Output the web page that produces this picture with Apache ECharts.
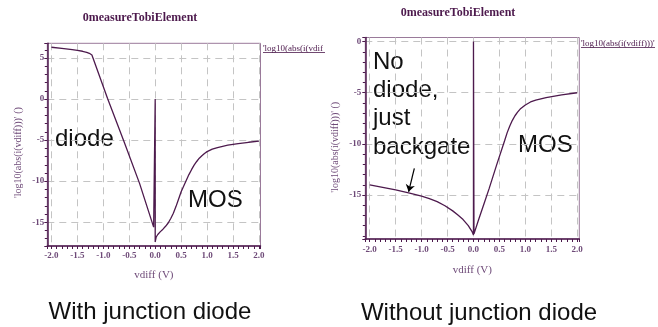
<!DOCTYPE html>
<html><head><meta charset="utf-8">
<script src="https://cdn.jsdelivr.net/npm/echarts@6/dist/echarts.min.js"></script>
<style>html,body{margin:0;padding:0;background:#fff}#c{width:658px;height:327px}</style>
</head><body><div id="c"></div>
<script>
// ---- data ----
const leftX = [-2.0, -1.8, -1.6, -1.5, -1.4, -1.32, -1.27, -1.22, -0.92, -0.6, -0.3, -0.03, 0, 0, 0.02, 0.05, 0.1, 0.15, 0.2, 0.25, 0.3, 0.35, 0.4, 0.45, 0.5, 0.55, 0.6, 0.65, 0.7, 0.75, 0.8, 0.85, 0.9, 0.95, 1.0, 1.1, 1.2, 1.3, 1.4, 1.6, 1.8, 2.0];
const leftY = [6.32, 6.18, 6.03, 5.93, 5.83, 5.7, 5.58, 5.37, 0.1, -5.2, -10.3, -15.6, 0, -17.4, -16.8, -16.5, -16.15, -15.85, -15.5, -15.1, -14.55, -13.9, -13.1, -12.2, -11.3, -10.6, -9.9, -9.2, -8.6, -8.05, -7.6, -7.2, -6.9, -6.62, -6.4, -6.1, -5.9, -5.75, -5.62, -5.42, -5.26, -5.13];
const rightX = [-2.0, -1.75, -1.5, -1.25, -1.0, -0.85, -0.7, -0.55, -0.4, -0.3, -0.2, -0.1, -0.03, 0, 0, 0.01, 0.1, 0.2, 0.3, 0.45, 0.6, 0.65, 0.7, 0.75, 0.8, 0.85, 0.9, 1.0, 1.1, 1.2, 1.4, 1.7, 2.0];
const rightY = [-14.0, -14.25, -14.5, -14.78, -15.1, -15.35, -15.65, -16.05, -16.55, -16.95, -17.4, -18.0, -18.55, -18.9, 0, -18.8, -17.4, -15.9, -14.4, -12.0, -9.7, -8.9, -8.25, -7.7, -7.25, -6.9, -6.6, -6.2, -5.9, -5.72, -5.47, -5.2, -5.0];
const arrowFrom = [-1.14, -12.4];
const arrowTo = [-1.25, -14.68];
const xTickStep = 0.5;
const yTickStep = 5;
const seriesName = "'log10(abs(i(vdiff)))'";
const xName = 'vdiff (V)';
const yName = "'log10(abs(i(vdiff)))' ()";
const chartTitle = '0measureTobiElement';

const purple = '#4d1a4d';
const labelColor = '#6e4a78';
const serif = 'Liberation Serif';
const isStep = (v, s) => Math.abs(v / s - Math.round(v / s)) < 1e-6;

function xAxisOpt(gi, min, max, margin, nameGap) {
  return {
    type: 'value', gridIndex: gi, min, max, minInterval: xTickStep, maxInterval: xTickStep,
    name: xName, nameLocation: 'middle', nameGap,
    nameTextStyle: { fontFamily: serif, fontSize: 11, color: labelColor },
    axisLine: { show: true, onZero: false, lineStyle: { color: purple, width: 1.5 } },
    axisTick: { show: true, length: 3, lineStyle: { color: purple } },
    minorTick: { show: true, splitNumber: 5, length: 3, lineStyle: { color: purple } },
    axisLabel: { margin, fontFamily: serif, fontSize: 9, fontWeight: 'bold', color: labelColor,
      formatter: v => isStep(v, xTickStep) ? v.toFixed(1) : '' },
    splitLine: { show: true, showMinLine: false, showMaxLine: false, lineStyle: { color: '#c4c4c4', type: [7, 5], width: 1 } }
  };
}
function yAxisOpt(gi, min, max, margin, nameGap, shift) {
  return {
    type: 'value', gridIndex: gi, min, max, minInterval: yTickStep, maxInterval: yTickStep,
    name: yName, nameLocation: 'middle', nameGap,
    nameTextStyle: { fontFamily: serif, fontSize: 10, color: labelColor, padding: [0, shift, 0, 0] },
    axisLine: { show: true, onZero: false, lineStyle: { color: purple, width: 1.5 } },
    axisTick: { show: true, length: 3, lineStyle: { color: purple } },
    minorTick: { show: true, splitNumber: 5, length: 2.5, lineStyle: { color: purple } },
    axisLabel: { margin, fontFamily: serif, fontSize: 9, fontWeight: 'bold', color: labelColor,
      formatter: v => isStep(v, yTickStep) ? String(Math.round(v)) : '' },
    splitLine: { show: true, showMinLine: false, showMaxLine: false, lineStyle: { color: '#c4c4c4', type: [7, 5], width: 1 } }
  };
}
function txt(x, y, text, o) {
  return { type: 'text', x, y, silent: true, style: Object.assign({ text, fill: '#111', font: '24px "Liberation Sans"', align: 'left', verticalAlign: 'middle' }, o || {}) };
}
const chart = echarts.init(document.getElementById('c'), null, { renderer: 'canvas' });
chart.setOption({
  animation: false,
  backgroundColor: '#fff',
  grid: [
    { left: 47.3, top: 43.3, width: 213.2, height: 202.7, show: true, borderColor: '#9a7a9a', borderWidth: 1, backgroundColor: 'transparent' },
    { left: 365.3, top: 37.5, width: 214, height: 201.5, show: true, borderColor: '#9a7a9a', borderWidth: 1, backgroundColor: 'transparent' }
  ],
  xAxis: [xAxisOpt(0, -2.08, 2.03, 5, 24), xAxisOpt(1, -2.085, 2.04, 6, 26)],
  yAxis: [yAxisOpt(0, -17.9, 6.8, 3, 24, 16), yAxisOpt(1, -19.3, 0.4, 4, 24.5, 18)],
  series: [
    { type: 'line', name: seriesName, xAxisIndex: 0, yAxisIndex: 0, showSymbol: false, symbol: 'none',
      lineStyle: { color: purple, width: 1.3 }, data: leftX.map((x, i) => [x, leftY[i]]) },
    { type: 'line', name: seriesName, xAxisIndex: 1, yAxisIndex: 1, showSymbol: false, symbol: 'none',
      lineStyle: { color: purple, width: 1.3 }, data: rightX.map((x, i) => [x, rightY[i]]),
      markLine: { silent: true, animation: false, symbol: ['none', 'arrow'], symbolSize: 7,
        label: { show: false }, lineStyle: { color: '#000', width: 1.2, type: 'solid' },
        data: [[{ coord: arrowFrom }, { coord: arrowTo }]] } }
  ],
  graphic: [
    txt(140, 18, chartTitle, { font: 'bold 12px "Liberation Serif"', fill: purple, align: 'center' }),
    txt(458, 13, chartTitle, { font: 'bold 12px "Liberation Serif"', fill: purple, align: 'center' }),
    txt(263, 48.5, "'log10(abs(i(vdif", { font: '9px "Liberation Serif"', fill: purple }),
    { type: 'line', silent: true, shape: { x1: 263, y1: 52.5, x2: 325, y2: 52.5 }, style: { stroke: purple, lineWidth: 0.8 } },
    txt(581, 43.5, seriesName, { font: '9px "Liberation Serif"', fill: purple }),
    { type: 'line', silent: true, shape: { x1: 581, y1: 47.5, x2: 655, y2: 47.5 }, style: { stroke: purple, lineWidth: 0.8 } },
    txt(55, 139, 'diode'),
    txt(188, 200, 'MOS'),
    txt(373, 62, 'No'),
    txt(373, 90.3, 'diode,'),
    txt(373, 118.7, 'just'),
    txt(373, 147, 'backgate'),
    txt(518, 145.5, 'MOS'),
    txt(150, 312, 'With junction diode', { align: 'center' }),
    txt(479, 313, 'Without junction diode', { align: 'center' })
  ]
});
</script></body></html>
